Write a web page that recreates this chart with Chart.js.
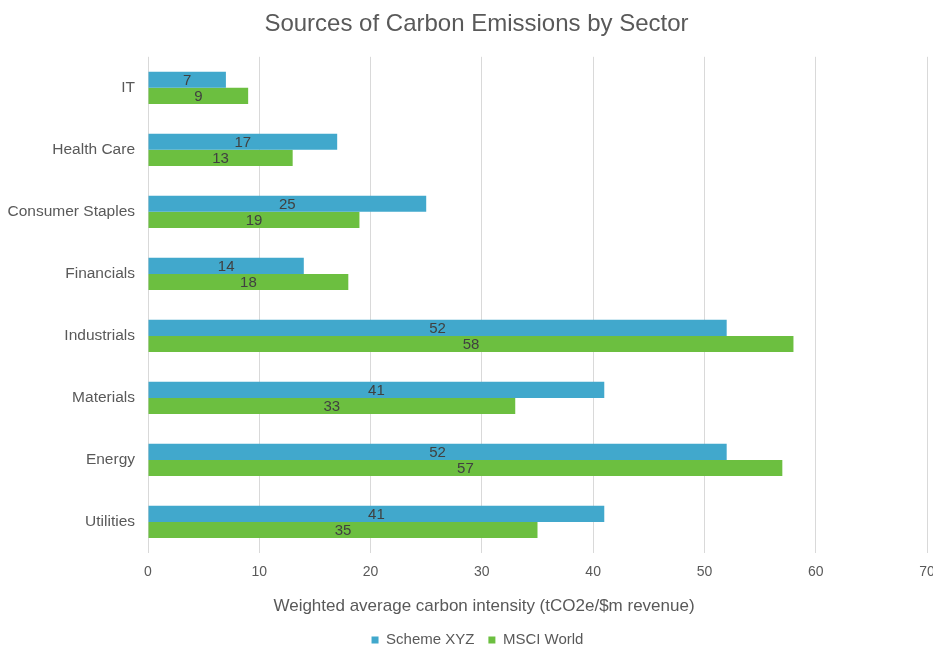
<!DOCTYPE html>
<html>
<head>
<meta charset="utf-8">
<script src="https://cdn.jsdelivr.net/npm/chart.js@4"></script>
<style>
  html, body { margin: 0; padding: 0; background: #fff; }
  #wrap { width: 933px; height: 646px; }
</style>
</head>
<body>
<div id="wrap"><canvas id="chart" width="933" height="646"></canvas></div>
<script>
// --- chart data ---
const sectors = ['IT', 'Health Care', 'Consumer Staples', 'Financials', 'Industrials', 'Materials', 'Energy', 'Utilities'];
const schemeXYZ = [7, 17, 25, 14, 52, 41, 52, 41];
const msciWorld = [9, 13, 19, 18, 58, 33, 57, 35];
const xTicks = [0, 10, 20, 30, 40, 50, 60, 70];
const xAxisTitle = 'Weighted average carbon intensity (tCO2e/$m revenue)';

const FONT = "'Liberation Sans', Arial, sans-serif";
const TEXT = '#595959';

function shiftBox(box, dx) {
  if (!box) return;
  box.left += dx;
  box.right += dx;
}

// value in the middle of each bar + the x axis title (placed like the original, not centred on the plot)
const extras = {
  id: 'extras',
  afterLayout(chart) {
    // the original centres title and legend a bit right of the canvas centre
    shiftBox(chart.titleBlock, 13);
    shiftBox(chart.legend, 14);
  },
  afterDatasetsDraw(chart) {
    const ctx = chart.ctx;
    ctx.save();
    ctx.font = '15px ' + FONT;
    ctx.fillStyle = '#404040';
    ctx.textAlign = 'center';
    ctx.textBaseline = 'middle';
    chart.data.datasets.forEach((ds, i) => {
      chart.getDatasetMeta(i).data.forEach((bar, j) => {
        const mid = (bar.x + bar.base) / 2;
        ctx.fillText(ds.data[j], mid, bar.y + 1);
      });
    });
    ctx.font = '17px ' + FONT;
    ctx.fillStyle = TEXT;
    const xs = chart.scales.x;
    ctx.fillText(xAxisTitle, 484, xs.bottom - 12.5);
    ctx.restore();
  }
};

new Chart(document.getElementById('chart').getContext('2d'), {
  type: 'bar',
  data: {
    labels: sectors,
    datasets: [
      { label: 'Scheme XYZ', data: schemeXYZ, backgroundColor: '#41A8CC' },
      { label: 'MSCI World', data: msciWorld, backgroundColor: '#6CBF40' }
    ]
  },
  options: {
    indexAxis: 'y',
    responsive: false,
    animation: false,
    categoryPercentage: 0.52,
    barPercentage: 1,
    layout: { padding: { top: 0, right: 6, bottom: -11.5, left: 0 } },
    plugins: {
      title: {
        display: true,
        text: 'Sources of Carbon Emissions by Sector',
        color: TEXT,
        font: { family: FONT, size: 24, weight: 'normal' },
        padding: { top: 10, bottom: 18 }
      },
      legend: {
        position: 'bottom',
        labels: {
          color: TEXT,
          font: { family: FONT, size: 15 },
          boxWidth: 7,
          boxHeight: 7,
          padding: 14
        }
      },
      tooltip: { enabled: false }
    },
    scales: {
      x: {
        min: 0,
        max: 70,
        afterBuildTicks: (s) => { s.ticks = xTicks.map(v => ({ value: v })); },
        afterFit: (s) => { s.paddingRight = 0; s.paddingLeft = 0; s.height = 65.5; },
        grid: { color: '#d9d9d9', drawTicks: false },
        border: { display: false },
        ticks: { color: TEXT, font: { family: FONT, size: 14 }, padding: 10.6 }
      },
      y: {
        afterFit: (s) => { s.width = 148; },
        grid: { display: false, drawTicks: false },
        border: { display: false },
        ticks: { color: TEXT, font: { family: FONT, size: 15.5 }, padding: 13 }
      }
    }
  },
  plugins: [extras]
});
</script>
</body>
</html>
